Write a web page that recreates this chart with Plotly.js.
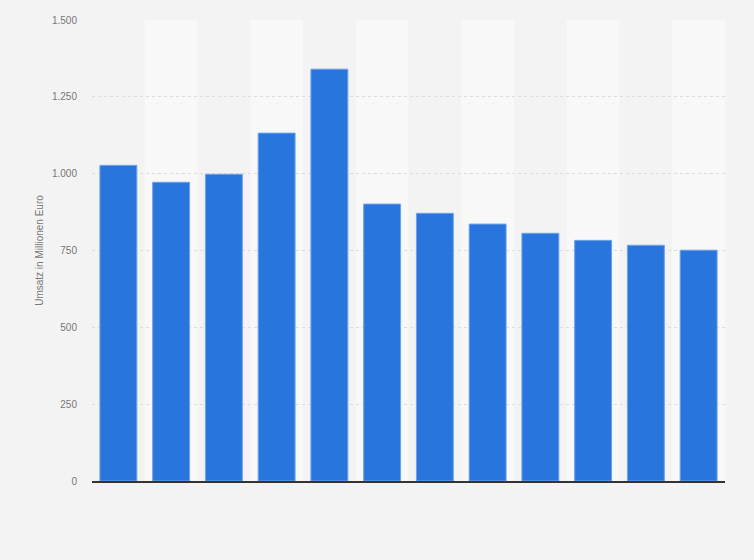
<!DOCTYPE html>
<html>
<head>
<meta charset="utf-8">
<script src="https://cdn.plot.ly/plotly-3.0.1.min.js"></script>
<style>
  html, body { margin: 0; padding: 0; background: #f3f3f3; }
  #chart { width: 754px; height: 560px; }
</style>
</head>
<body>
<div id="chart"></div>
<script>
// Categories (x labels are not shown in the reference)
const categories = ["2009", "2010", "2011", "2012", "2013", "2014", "2015", "2016", "2017", "2018", "2019", "2020"];
// Umsatz in Millionen Euro
const revenue = [1027, 972, 998, 1132, 1340, 901, 871, 836, 806, 783, 767, 751];
const yTickVals = [0, 250, 500, 750, 1000, 1250, 1500];
const yTickText = ["0", "250", "500", "750", "1.000", "1.250", "1.500"];
const yAxisTitle = "Umsatz in Millionen Euro";

const bands = categories.map((c, i) => i).filter(i => i % 2 === 1).map(i => ({
  type: 'rect', xref: 'x', yref: 'paper',
  x0: i - 0.5, x1: i + 0.5, y0: 0, y1: 1,
  fillcolor: '#f8f8f8', line: { width: 0 }, layer: 'below'
}));

const trace = {
  type: 'bar',
  x: categories.map((c, i) => i),
  y: revenue,
  marker: { color: '#2876dd', line: { color: '#6fa3ea', width: 1 } },
  width: 0.7,
  hoverinfo: 'y'
};

const layout = {
  width: 754, height: 560,
  margin: { l: 92, r: 29, t: 20, b: 79 },
  paper_bgcolor: '#f3f3f3',
  plot_bgcolor: '#f3f3f3',
  font: { family: 'Arial, "Liberation Sans", sans-serif', color: '#777777', size: 10 },
  showlegend: false,
  shapes: bands,
  xaxis: {
    range: [-0.5, categories.length - 0.5],
    showticklabels: false, showgrid: false, zeroline: false,
    showline: true, linecolor: '#333333', linewidth: 1.5,
    ticks: '', fixedrange: true
  },
  yaxis: {
    range: [0, 1500],
    tickvals: yTickVals, ticktext: yTickText,
    showgrid: true, gridcolor: '#dcdcdc', griddash: 'dot', gridwidth: 1,
    zeroline: false, showline: false,
    ticks: 'outside', ticklen: 12, tickcolor: 'rgba(0,0,0,0)',
    tickfont: { size: 10, color: '#777777' },
    title: { text: yAxisTitle, font: { size: 10, color: '#777777' }, standoff: 6 },
    fixedrange: true
  }
};

Plotly.newPlot('chart', [trace], layout, { displayModeBar: false, staticPlot: true });
</script>
</body>
</html>
